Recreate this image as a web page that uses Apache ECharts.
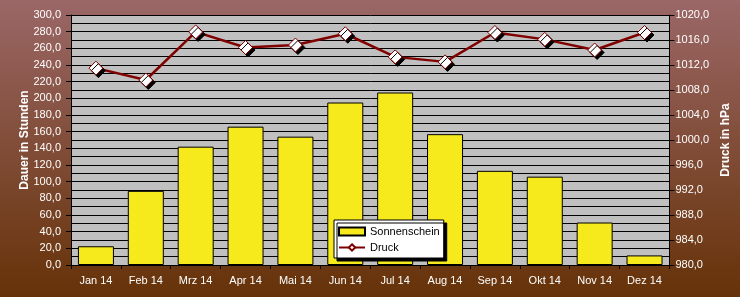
<!DOCTYPE html>
<html><head><meta charset="utf-8">
<script src="https://cdn.jsdelivr.net/npm/echarts@6/dist/echarts.min.js"></script>
<style>html,body{margin:0;padding:0;}#c{width:740px;height:297px;}</style>
</head><body><div id="c"></div>
<script>
const categories = ['Jan 14','Feb 14','Mrz 14','Apr 14','Mai 14','Jun 14','Jul 14','Aug 14','Sep 14','Okt 14','Nov 14','Dez 14'];
const sonnenschein = [22.5, 89, 142, 166, 154, 195, 207, 157, 113, 106, 51, 11.5];
const druck = [1011.5, 1009.6, 1017.3, 1014.8, 1015.2, 1017.0, 1013.3, 1012.5, 1017.2, 1016.1, 1014.4, 1017.2];

const fmt = v => v.toFixed(1).replace('.', ',');
const barColor = '#f6ea1c';
const chart = echarts.init(document.getElementById('c'), null, {renderer:'canvas'});
chart.setOption({
  animation: false,
  backgroundColor: {type:'linear', x:0, y:0, x2:0, y2:1, colorStops:[{offset:0,color:'#9b6767'},{offset:1,color:'#663208'}]},
  textStyle: {fontFamily: 'Liberation Sans, Arial, sans-serif'},
  grid: {left:71, right:69, top:15, bottom:32, show:true, backgroundColor:'#c0c0c0', borderWidth:0},
  legend: {
    orient:'vertical', left:334, top:220, itemGap:5, itemWidth:26, itemHeight:8,
    backgroundColor:'#ffffff', borderColor:'#000', borderWidth:1, padding:[6,4,5,4],
    shadowColor:'#000', shadowOffsetX:3, shadowOffsetY:3, shadowBlur:0,
    textStyle:{color:'#000', fontSize:11, fontFamily:'Liberation Sans, Arial, sans-serif'},
    data:[{name:'Sonnenschein', icon:'rect'}, {name:'Druck'}]
  },
  xAxis: {
    type:'category', data: categories,
    axisLine:{show:true, lineStyle:{color:'#000', width:1}},
    axisTick:{show:true, alignWithLabel:false, length:4, lineStyle:{color:'#000'}},
    axisLabel:{color:'#fff', fontSize:11, margin:10},
    splitLine:{show:false}
  },
  yAxis: [
    {type:'value', min:0, max:300, interval:20, position:'left',
     name:'Dauer in Stunden', nameLocation:'middle', nameGap:40, nameRotate:90, nameMoveOverlap:false,
     nameTextStyle:{color:'#fff', fontWeight:'bold', fontSize:12},
     axisLine:{show:true, lineStyle:{color:'#000'}},
     axisTick:{show:true, length:5, lineStyle:{color:'#000'}},
     axisLabel:{color:'#fff', fontSize:11, formatter: fmt, margin:10},
     splitLine:{show:true, lineStyle:{color:'#000', width:1}},
     minorTick:{show:false, splitNumber:2},
     minorSplitLine:{show:true, lineStyle:{color:'#000', width:1}}
    },
    {type:'value', min:980, max:1020, interval:4, position:'right',
     name:'Druck in hPa', nameLocation:'middle', nameGap:46, nameRotate:90,
     nameTextStyle:{color:'#fff', fontWeight:'bold', fontSize:12},
     axisLine:{show:true, lineStyle:{color:'#000'}},
     axisTick:{show:true, length:5, lineStyle:{color:'#000'}},
     axisLabel:{color:'#fff', fontSize:11, formatter: fmt, margin:6},
     splitLine:{show:false}
    }
  ],
  series: [
    {name:'Sonnenschein', type:'bar', data: sonnenschein, barWidth:36, yAxisIndex:0,
     itemStyle:{color: barColor, borderColor:'#000', borderWidth:1}},
    {name:'Druck', type:'line', data: druck, yAxisIndex:1, symbol:'diamond', symbolSize:14,
     lineStyle:{color:'#800000', width:2.5},
     itemStyle:{color:'#fff', borderColor:'#800000', borderWidth:1, shadowColor:'#000', shadowOffsetX:2.5, shadowOffsetY:2.5, shadowBlur:0},
     z:5}
  ]
});
</script></body></html>
